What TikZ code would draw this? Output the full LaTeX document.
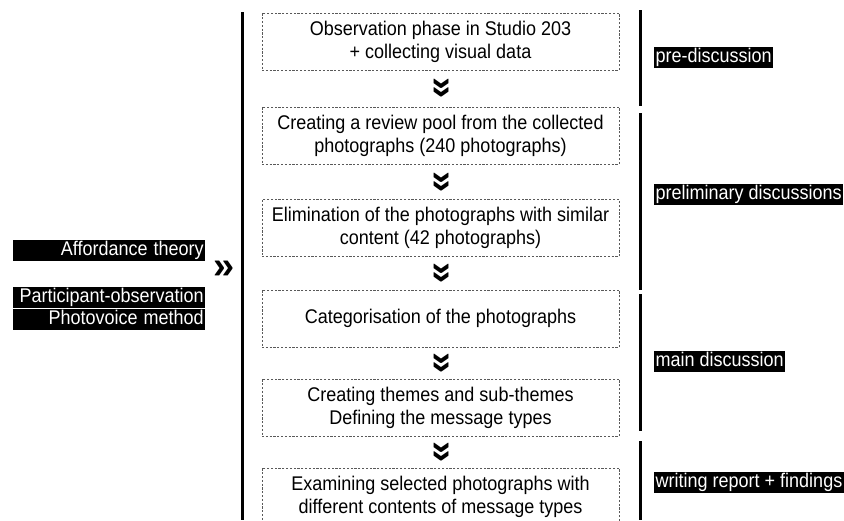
\documentclass[tikz,border=0pt]{standalone}
\usepackage{fontspec}
\usepackage{graphicx}
\setmainfont{Liberation Sans}
\newcommand\vst[1]{\scalebox{1}[1.1]{#1}}
\begin{document}
\begin{tikzpicture}[x=1pt,y=-1pt,
  stepbox/.style={draw=black!65, line width=0.9pt, dash pattern=on 2.2pt off 1.6pt,
    minimum width=357pt, minimum height=57pt, inner sep=0pt, align=center,
    font=\fontsize{18}{23}\selectfont},
  chev/.style={font=\bfseries\fontsize{38}{38}\selectfont, rotate=-90, inner sep=0pt},
  phase/.style={fill=black, text=white, font=\fontsize{18}{18}\selectfont,
    inner xsep=1.5pt, inner ysep=0.5pt, text height=15pt, text depth=5pt, anchor=west},
  theory/.style={fill=black, text=white, font=\fontsize{18}{18}\selectfont,
    text width=189pt, align=right, inner xsep=1.5pt, inner ysep=0.5pt,
    text height=15pt, text depth=5pt, anchor=west},
  bar/.style={line width=3pt}]
\useasboundingbox (0,0) rectangle (844,520);

% process boxes
\node[stepbox] (b1) at (440.5,41.5) {\vst{Observation phase in Studio 203}\\\vst{+ collecting visual data}};
\node[stepbox] (b2) at (440.5,135.5) {\vst{Creating a review pool from the collected}\\\vst{photographs (240 photographs)}};
\node[stepbox] (b3) at (440.5,228) {\vst{Elimination of the photographs with similar}\\\vst{content (42 photographs)}};
\node[stepbox] (b4) at (440.5,318.5) {\vst{Categorisation of the photographs}};
\node[stepbox] (b5) at (440.5,407.5) {\vst{Creating themes and sub-themes}\\\vst{Defining the message types}};
\node[stepbox] (b6) at (440.5,496.5) {\vst{Examining selected photographs with}\\\vst{different contents of message types}};

% chevrons between boxes
\path (b1.south) -- (b2.north) node[chev, midway] (c1) {»};
\path (b2.south) -- (b3.north) node[chev, midway] (c2) {»};
\path (b3.south) -- (b4.north) node[chev, midway] (c3) {»};
\path (b4.south) -- (b5.north) node[chev, midway] (c4) {»};
\path (b5.south) -- (b6.north) node[chev, midway] (c5) {»};

% left bar
\coordinate (lt) at (242,12);
\coordinate (lb) at (242,520);
\draw[bar] (lt) -- (lb);

% right bars
\coordinate (r1t) at (640,10);  \coordinate (r1b) at (640,106);
\coordinate (r2t) at (640,113); \coordinate (r2b) at (640,290);
\coordinate (r3t) at (640,294); \coordinate (r3b) at (640,431);
\coordinate (r4t) at (640,441); \coordinate (r4b) at (640,520);
\draw[bar] (r1t) -- (r1b);
\draw[bar] (r2t) -- (r2b);
\draw[bar] (r3t) -- (r3b);
\draw[bar] (r4t) -- (r4b);

% phase labels
\node[phase] (p1) at (654,57) {\vst{pre-discussion}};
\node[phase] (p2) at (654,194) {\vst{preliminary discussions}};
\node[phase] (p3) at (654,361) {\vst{main discussion}};
\node[phase] (p4) at (654,482) {\vst{writing report + findings}};

% theory labels
\node[theory] (t1) at (13,250.5) {\vst{Affordance theory}};
\node[theory] (t2) at (13,297) {\vst{Participant-observation}};
\node[theory] (t3) at (13,319) {\vst{Photovoice method}};
\node[font=\bfseries\fontsize{38}{38}\selectfont, inner sep=0pt] (arr) at (224,270) {»};
\end{tikzpicture}
\end{document}
